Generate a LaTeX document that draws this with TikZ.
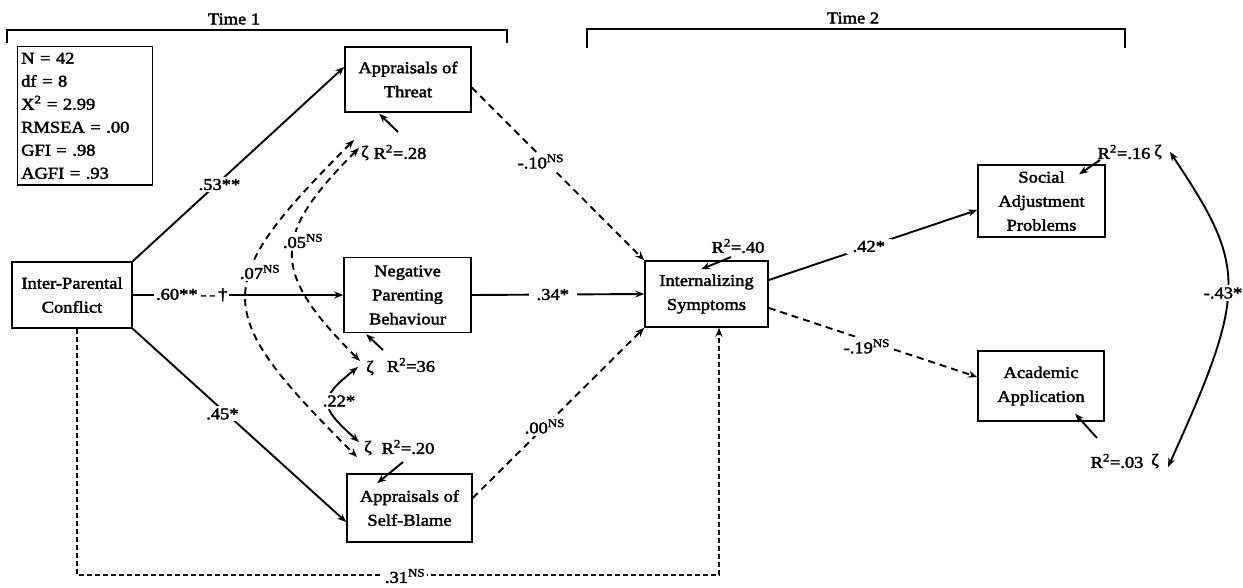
\documentclass[tikz,border=0pt]{standalone}
\usepackage{fontspec}
\setmainfont{Liberation Serif}[FakeStretch=1.12,FakeBold=2.2]
\usetikzlibrary{arrows.meta,calc}
\newcommand{\nsup}{\textsuperscript{NS}}
\newcommand{\rsq}{R\textsuperscript{2}}
\begin{document}
\begin{tikzpicture}[x=1pt,y=-1pt,
  every node/.style={font=\fontsize{16.5}{24}\selectfont, inner sep=0pt},
  box/.style={draw, line width=1.6pt, align=center, inner sep=0pt},
  con/.style={line width=1.9pt},
  arr/.style={con,-{Stealth[length=9pt,width=7pt]}},
  darr/.style={con,{Stealth[length=9pt,width=7pt]}-{Stealth[length=9pt,width=7pt]}},
  dsh/.style={dash pattern=on 7pt off 5pt},
  dsh2/.style={dash pattern=on 5pt off 3pt},
  lab/.style={fill=white, inner sep=2pt},
]
\useasboundingbox (0,0) rectangle (1243,587);
\fill[white] (0,0) rectangle (1243,587);

% time brackets
\node (t1) at (234,19) {Time 1};
\node (t2) at (853,18) {Time 2};
\draw[line width=1.4pt] (7,43) -- (7,30) -- (507,30) -- (507,43);
\draw[line width=1.4pt] (587,48) -- (587,29) -- (1125,29) -- (1125,48);

% fit statistics
\node[draw, line width=1.4pt, anchor=north west, minimum width=135pt,
      align=left, text width=128pt, inner xsep=3pt, inner ysep=6pt,
      font=\fontsize{16.5}{23}\selectfont] (stats) at (17,46)
  {N = 42\\ df = 8\\ X\textsuperscript{2} = 2.99\\ RMSEA = .00\\ GFI = .98\\ AGFI = .93};

% boxes
\node[box, minimum width=120pt, minimum height=66pt] (ipc) at (72,295) {Inter-Parental\\Conflict};
\node[box, minimum width=126pt, minimum height=65pt] (thr) at (408,79.5) {Appraisals of\\Threat};
\node[box, minimum width=127pt, minimum height=75pt] (npb) at (407.5,295) {Negative\\Parenting\\Behaviour};
\node[box, minimum width=125pt, minimum height=68pt] (sb) at (409.5,508) {Appraisals of\\Self-Blame};
\node[box, minimum width=123pt, minimum height=66pt] (int) at (706.5,294) {Internalizing\\Symptoms};
\node[box, minimum width=127pt, minimum height=72pt] (soc) at (1041.5,201) {Social\\Adjustment\\Problems};
\node[box, minimum width=126pt, minimum height=70pt] (aca) at (1041,386) {Academic\\Application};

% disturbance and R2 labels
\node (z28) at (365,153) {ζ};
\node (r28) at (400,152) {\rsq=.28};
\node (z36) at (370,368) {ζ};
\node (r36) at (411,365) {\rsq=36};
\node (z20) at (368,448) {ζ};
\node (r20) at (408,447) {\rsq=.20};
\node (r40) at (738,246) {\rsq=.40};
\node (r16) at (1124,152) {\rsq=.16};
\node (z16) at (1158,152) {ζ};
\node (r03) at (1117,461) {\rsq=.03};
\node (z03) at (1155,461) {ζ};

% paths
\draw[arr] (ipc.north east) -- node[lab,pos=0.41,yshift=-3pt]{.53**} ([yshift=12.5pt]thr.west);
\draw[arr] (ipc.east) -- node[lab,pos=0.28]{.60**\,-\,-\,†} (npb.west);
\draw[arr] (ipc.south east) -- node[lab,pos=0.42,yshift=-4pt]{.45*} ([yshift=-14pt]sb.west);
\draw[arr,dsh] ([yshift=-8pt]thr.east) -- node[lab,pos=0.4,yshift=-5pt]{-.10\nsup} (int.north west);
\draw[arr] (npb.east) -- node[lab,pos=0.47,inner xsep=8pt]{.34*} (int.west);
\draw[arr,dsh] ([yshift=10pt]sb.east) -- node[lab,pos=0.42]{.00\nsup} (int.south west);
\coordinate (c31) at (405,575);
\draw[arr,dsh2] ([xshift=5pt]ipc.south) |- (c31) -| ([xshift=12.5pt]int.south);
\node[lab] (l31) at (405,576) {.31\nsup};
\draw[arr] ([yshift=14pt]int.east) -- node[lab,pos=0.48,inner xsep=7pt]{.42*} ([yshift=-9pt]soc.west);
\draw[arr,dsh] ([yshift=-14pt]int.east) -- node[lab,pos=0.47,yshift=-6pt]{-.19\nsup} ([yshift=9pt]aca.west);

% R2 arrows
\draw[arr] ($(r28)+(-2,-20)$) -- ($(thr.south west)+(35,1)$);
\draw[arr] ($(r36)+(-28,-15)$) -- ($(npb.south west)+(23,1)$);
\draw[arr] ($(r20)+(-5,15)$) -- ($(sb.north west)+(31,10)$);
\draw[arr] ($(r40)+(-7,11)$) -- ($(int.north west)+(57,9)$);
\draw[arr] ($(r16)+(-24,8)$) -- ($(soc.north west)+(102,10)$);
\draw[arr] ($(r03)+(-20,-23)$) -- ($(aca.south west)+(98,-8)$);

% covariances
\draw[darr,dsh] ($(z28)+(-11,-13)$) .. controls +(-146,146) and +(-146,-146) .. ($(z20)+(-11,9)$);
\draw[darr,dsh] ($(z28)+(-6,-5)$) .. controls +(-89,89) and +(-89,-89) .. ($(z36)+(-10,-7)$);
\draw[darr] ($(z36)+(-12,-1)$) .. controls +(-40,32) and +(-40,-36) .. ($(z20)+(-9,-6)$);
\draw[darr] ($(z16)+(12,0)$) .. controls +(76,114) and +(81,-178) .. ($(z03)+(13,6)$);
\node[lab] (l07) at (260,272) {.07\nsup};
\node[lab] (l05) at (303,241) {.05\nsup};
\node[lab] (l22) at (339,401) {.22*};
\node[lab] (l43) at (1223,293) {-.43*};
\end{tikzpicture}
\end{document}
